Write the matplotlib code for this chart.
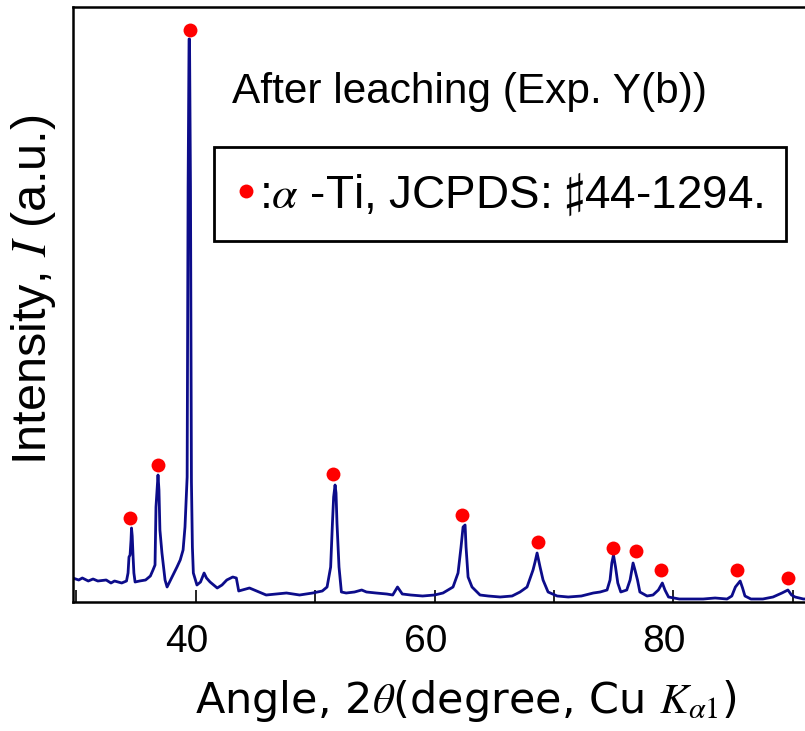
import matplotlib
matplotlib.use("Agg")
import matplotlib.pyplot as plt
from matplotlib.lines import Line2D
from matplotlib.transforms import ScaledTranslation

plt.rcParams["font.family"] = ["Liberation Sans", "DejaVu Sans"]
plt.rcParams["mathtext.fontset"] = "stix"

# XRD trace (2theta in degree, intensity in a.u.)
two_theta = [
    29.7, 30.2, 30.5, 31.0, 31.4, 31.8, 32.5, 32.9, 33.2, 33.8, 34.2, 34.33,
    34.41, 34.5, 34.58, 34.62, 34.68, 34.75, 34.82, 34.92, 35.3, 35.8, 36.2,
    36.42, 36.59, 36.67, 36.84, 36.92, 37.0, 37.17, 37.43, 37.6, 38.02, 38.43,
    38.7, 38.94, 39.1, 39.28, 39.36, 39.44, 39.48, 39.56, 39.64, 39.72, 39.8,
    40.1, 40.4, 40.7, 40.9, 41.2, 41.8, 42.2, 42.6, 43.1, 43.4, 43.6, 44.5,
    45.3, 45.9, 46.8, 47.6, 48.7, 49.8, 50.6, 51.0, 51.3, 51.45, 51.55, 51.67,
    51.75, 51.83, 52.0, 52.2, 52.6, 53.3, 53.9, 54.3, 55.1, 56.0, 56.5, 56.9,
    57.3, 58.0, 59.0, 60.0, 60.71, 61.55, 61.97, 62.22, 62.39, 62.56, 62.64,
    62.81, 63.14, 63.81, 64.5, 65.5, 66.5, 67.16, 67.75, 68.25, 68.42, 68.59,
    68.84, 69.09, 69.51, 70.27, 71.2, 72.3, 73.3, 73.87, 74.45, 74.7, 74.85,
    74.99, 75.16, 75.35, 75.6, 76.1, 76.38, 76.63, 76.79, 77.0, 77.2, 77.8,
    78.3, 78.75, 79.08, 79.3, 79.6, 80.5, 81.5, 82.5, 83.5, 84.5, 84.9, 85.2,
    85.6, 85.8, 86.0, 86.5, 87.5, 88.35, 89.1, 89.6, 89.9, 90.2, 90.9, 91.1,
]
intensity = [
    24, 22, 24, 21, 23, 21, 22, 19, 21, 19, 21, 29,
    45, 47, 62, 74, 66, 46, 29, 20, 21, 22, 26,
    32, 37, 95, 127, 112, 72, 49, 22, 15, 25, 35,
    42, 52, 75, 125, 415, 563, 563, 415, 120, 55, 29,
    17, 20, 29, 24, 20, 14, 17, 22, 25, 24, 11, 14,
    10, 7, 8, 9, 7, 9, 11, 15, 35, 79, 105, 117,
    109, 79, 35, 10, 9, 10, 12, 10, 9, 8, 7, 15,
    8, 7, 6, 7, 9, 15, 29, 55, 75, 77, 55,
    25, 15, 7, 6, 5, 6, 10, 15, 32, 40, 49,
    35, 22, 10, 6, 5, 6, 9, 10, 12, 22, 39,
    47, 35, 19, 10, 12, 22, 39, 32, 22, 10, 6,
    7, 12, 19, 12, 5, 3, 3, 3, 4, 3, 6, 15,
    21, 14, 6, 3, 3, 5, 9, 12, 7, 5, 3, 3,
]

# alpha-Ti reflections marked with red dots
peak_theta = [34.50, 36.87, 39.52, 51.52, 62.30, 68.69, 74.97, 76.85, 79.00, 85.31, 89.63]
peak_mark = [84, 137, 572, 128, 87, 60, 54, 51, 32, 32, 24]

major_ticks = [40, 60, 80]
minor_ticks = [30, 50, 70, 90]

fig = plt.figure(figsize=(8.05, 7.31), dpi=100)
ax = fig.add_axes([73 / 805, 129 / 731, 1 - 73 / 805, 595 / 731])

ax.plot(two_theta, intensity, color="#0c0c8a", lw=2.0)
ax.plot(peak_theta, peak_mark, "o", color="red", ms=10, mec="none")

ax.set_xlim(29.72, 91.03)
ax.set_ylim(0, 595)
ax.set_xticks(major_ticks)
ax.set_xticks(minor_ticks, minor=True)
ax.set_yticks([])
ax.tick_params(axis="x", which="both", direction="in", length=9, width=1.2,
               pad=16, labelsize=28)
for side in ["left", "bottom", "top"]:
    ax.spines[side].set_linewidth(1.8)
ax.spines["right"].set_visible(False)

ax.set_xlabel(r"Angle, 2$\theta$(degree, Cu $K_{\alpha 1}$)", fontsize=31,
              family=["DejaVu Sans"])
ax.xaxis.set_label_coords(0.537, -0.128)
ax.set_ylabel(r"Intensity, $I$ (a.u.)", fontsize=35)
ax.yaxis.set_label_coords(-0.020, 0.524)

fig.text(232 / 805, 1 - 103 / 731, "After leaching (Exp. Y(b))",
         fontsize=30.5, va="baseline", ha="left")

handle = Line2D([], [], ls="none", marker="o", color="red", ms=10, mec="none")
leg = fig.legend([handle], [r":$\alpha$ -Ti, JCPDS: $\sharp$44-1294."],
                 loc="center", bbox_to_anchor=(500 / 805, 1 - 194 / 731),
                 fontsize=33, handlelength=0.4, handletextpad=0.1,
                 borderpad=0.5, fancybox=False, framealpha=1,
                 edgecolor="black")
leg.get_frame().set_linewidth(2)

# tick labels sit a little left of their ticks in the original
fig.canvas.draw()
shift = ScaledTranslation(-9 / 100, 0, fig.dpi_scale_trans)
for tick in ax.xaxis.get_major_ticks():
    tick.label1.set_transform(tick.label1.get_transform() + shift)

fig.savefig("out.png", dpi=100)
